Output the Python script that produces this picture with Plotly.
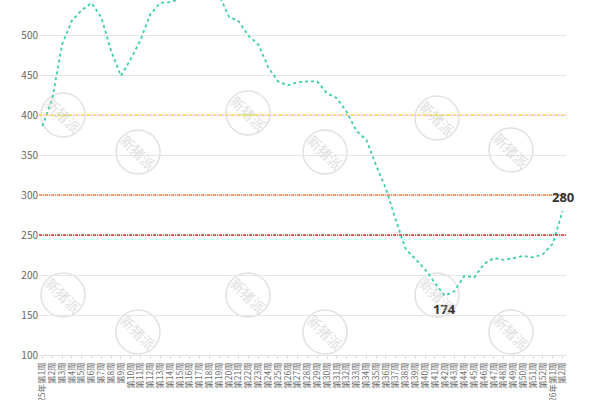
import plotly.graph_objects as go

week_labels = ["2025年第1周"] + [f"第{i}周" for i in range(2, 53)] + ["2026年第1周", "第2周"]
values = [386, 420, 488, 518, 531, 540, 522, 480, 449, 470,
          494, 526, 540, 541, 545, 552, 556, 558, 550, 523,
          517, 499, 488, 460, 442, 437, 441, 442, 442, 427,
          421, 404, 380, 369, 337, 308, 269, 233, 220, 207,
          190, 174, 180, 199, 197, 214, 221, 219, 221, 224,
          222, 226, 239, 280]
ref_levels = [400, 300, 250]
ref_colors = ["#f2e400", "#f07f3c", "#e8242c"]
y_ticks = [100, 150, 200, 250, 300, 350, 400, 450, 500]

x_idx = list(range(len(values)))

fig = go.Figure()
fig.add_trace(go.Scatter(
    x=x_idx, y=values, mode="lines",
    line=dict(color="#3ccdab", width=1.8, dash="dot"),
    hoverinfo="skip", showlegend=False,
))

# reference lines
for lv, col in zip(ref_levels, ref_colors):
    fig.add_shape(type="line", xref="paper", x0=0, x1=1, yref="y", y0=lv, y1=lv,
                  line=dict(color=col, width=1.3, dash="3px,1px,1px,1px"), layer="above")

# min / last labels
i_min = values.index(min(values))
fig.add_annotation(x=i_min, y=values[i_min], text=f"<b>{values[i_min]}</b>", showarrow=False,
                   yshift=-13, font=dict(size=13, color="#333333", family="Noto Sans, sans-serif"))
fig.add_annotation(x=x_idx[-1], y=values[-1], text=f"<b>{values[-1]}</b>", showarrow=False,
                   yshift=14, font=dict(size=13, color="#333333", family="Noto Sans, sans-serif"))

# watermarks (pixel centres converted to paper coords)
L, R, T, B = 39, 566, 0, 355
W, H = R - L, B - T
wm_px = [(63, 115), (248, 113), (437, 118), (138, 152), (325, 152), (511, 150),
         (63, 295), (248, 295), (437, 295), (138, 332), (325, 332), (511, 332)]
for px, py in wm_px:
    xp = (px - L) / W
    yp = 1 - (py - T) / H
    rx = 22 / W
    ry = 22 / H
    fig.add_shape(type="circle", xref="paper", yref="paper",
                  x0=xp - rx, x1=xp + rx, y0=yp - ry, y1=yp + ry,
                  line=dict(color="rgba(205,205,205,0.6)", width=1.5), layer="below")
    fig.add_annotation(xref="paper", yref="paper", x=xp, y=yp, text="新猪派", showarrow=False,
                       xanchor="center", yanchor="middle",
                       textangle=45, font=dict(size=14, color="rgba(200,200,200,0.6)",
                                               family="Noto Sans CJK SC"))

fig.update_layout(
    width=600, height=400,
    margin=dict(l=L, r=600 - R, t=T, b=400 - B),
    paper_bgcolor="white", plot_bgcolor="white",
    font=dict(family="Noto Sans CJK SC, Noto Sans, sans-serif", color="#666666"),
    xaxis=dict(
        range=[-0.35, len(values) - 1 + 0.35],
        tickvals=x_idx, ticktext=week_labels, tickangle=-90,
        tickfont=dict(size=8.5, color="#6b6b6b"),
        showgrid=False, zeroline=False,
        showline=True, linecolor="#e3e3e3", linewidth=1,
        ticks="outside", ticklen=3, tickcolor="#dddddd",
        automargin=False,
    ),
    yaxis=dict(
        range=[100, 543.75], tickvals=y_ticks,
        showgrid=True, gridcolor="#e6e6e6", gridwidth=1,
        zeroline=False, showline=False,
        tickfont=dict(size=10, color="#666666"),
        automargin=False,
    ),
)

fig.write_html("out.html", config={"displayModeBar": False},
               post_script="document.body.style.margin='0';document.body.style.overflow='hidden';")
